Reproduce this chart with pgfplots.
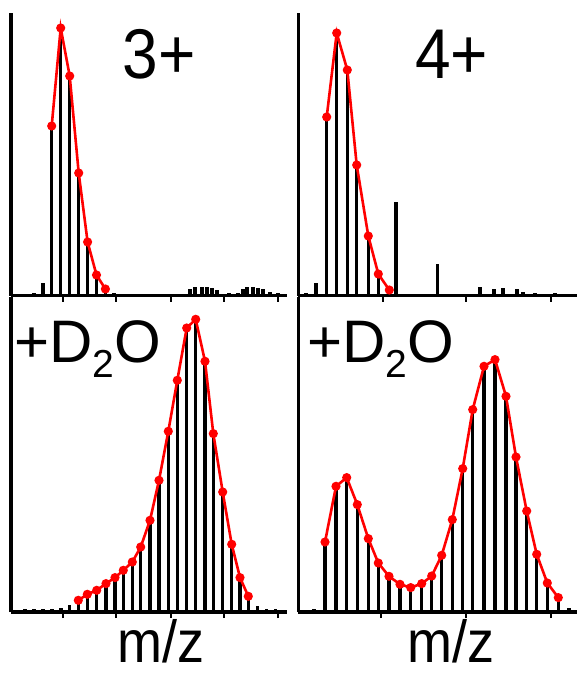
\documentclass[border=0pt]{standalone}
\usepackage{pgfplots}
\pgfplotsset{compat=1.18}
\usepackage{fontspec}
\setmainfont{Liberation Sans}
\begin{document}
\begin{tikzpicture}
\useasboundingbox (0,0) rectangle (577bp,673bp);
\pgfplotsset{
  panel/.style={
    scale only axis, enlargelimits=false, clip=false,
    axis lines=left, axis line style={-, line width=3bp, black},
    ytick=\empty, xticklabels={},
    tick align=outside, major tick length=6bp,
    every tick/.style={black, line width=2.2bp},
    anchor=south west, ymin=0,
  },
  sticks/.style={ycomb, black, line width=3.1bp, mark=none},
  envl/.style={red, line width=2.6bp, mark=*, mark size=3.2bp, mark options={fill=red, draw=red, solid}},
}
% ---------------- top left (3+)
\begin{axis}[panel, at={(11bp,377bp)}, width=276bp, height=283bp,
  xmin=11, xmax=287, ymax=283, xtick={63,116,171,224,278}]
\addplot[sticks] coordinates {(25,2)(34,3)(43,13)(51.7,170)(60.7,268)(69.7,220)(78.7,123)(87.6,54)(96.5,21)(105.4,7)(114,3)(123,2)(132,2)
 (190,7)(195,9)(202,9)(207,9)(212,8)(217,6)(229,3)(238,3)(243,7)(247,9)(253,9)(258,8)(263,7)(270,4)(278,3)};
\addplot[envl] coordinates {(51.7,170)(60.7,268)(69.7,220)(78.7,123)(87.6,54)(96.5,21)(105.4,7)};
\end{axis}
% ---------------- top right (4+)
\begin{axis}[panel, at={(298bp,377bp)}, width=279bp, height=283bp,
  xmin=298, xmax=577, ymax=283, xtick={383,466,551}]
\addplot[sticks] coordinates {(306,3)(316,13)(326.7,179)(336.7,263)(347.3,226)(356.7,131)(368.3,60)(378.3,22)(389.3,6)(396,94)(406,2)(418,2)(437.7,32)(460,2)
 (480,9)(494,7)(503,8)(517,7)(523,4)(535,3)(545,2)(555,3)(565,2)};
\addplot[envl] coordinates {(326.7,179)(336.7,263)(347.3,226)(356.7,131)(368.3,60)(378.3,22)(389.3,6)};
\end{axis}
% ---------------- bottom left (+D2O)
\begin{axis}[panel, at={(11bp,61bp)}, width=276bp, height=315bp,
  xmin=11, xmax=287, ymax=315, xtick={63,116,171,224,278}]
\addplot[sticks] coordinates {(25,3)(34,3)(43,3)(52,3)(61,4)(69.4,7)
 (78.3,11.7)(87.3,17.7)(96.7,21.7)(106,28.4)(115,34.4)(123.3,41.7)(132.3,50)(140.7,65)(150,91.7)(159,131.7)
 (168.3,180.7)(177.3,231.7)(186.7,284)(195.7,292.7)(205,250.7)(213.3,178.4)(222.7,120)(231.7,67.7)(240,34.4)(248.3,15.7)
 (257.3,6)(266.3,3)(275.2,3)};
\addplot[envl] coordinates {(78.3,11.7)(87.3,17.7)(96.7,21.7)(106,28.4)(115,34.4)(123.3,41.7)(132.3,50)(140.7,65)(150,91.7)(159,131.7)
 (168.3,180.7)(177.3,231.7)(186.7,284)(195.7,292.7)(205,250.7)(213.3,178.4)(222.7,120)(231.7,67.7)(240,34.4)(248.3,15.7)};
\end{axis}
% ---------------- bottom right (+D2O)
\begin{axis}[panel, at={(298bp,61bp)}, width=279bp, height=315bp,
  xmin=298, xmax=577, ymax=315, xtick={381,466,551}]
\addplot[sticks] coordinates {(304,2)(314,3)
 (325,70)(336,125.7)(346.7,134.4)(357.3,107.4)(368.3,73.4)(378.3,49)(389,35.7)(400,27.7)(410.7,24.4)(421.7,28.4)(431.7,36)(441.7,56.7)
 (452.3,92.4)(462.7,143.4)(472.7,202.4)(484,245.7)(495,252.4)(506,215.7)(516,155)(526.7,101)(536.7,57.7)(547.3,29)(558.3,14.4)
 (569,4)};
\addplot[envl] coordinates {(325,70)(336,125.7)(346.7,134.4)(357.3,107.4)(368.3,73.4)(378.3,49)(389,35.7)(400,27.7)(410.7,24.4)(421.7,28.4)(431.7,36)(441.7,56.7)
 (452.3,92.4)(462.7,143.4)(472.7,202.4)(484,245.7)(495,252.4)(506,215.7)(516,155)(526.7,101)(536.7,57.7)(547.3,29)(558.3,14.4)};
\end{axis}
% ---------------- labels
\node[anchor=base, inner sep=0pt] at (159bp,594bp) {\scalebox{1}[1.1]{\fontsize{64bp}{64bp}\selectfont 3+}};
\node[anchor=base, inner sep=0pt] at (451.5bp,594bp) {\scalebox{1}[1.1]{\fontsize{64bp}{64bp}\selectfont 4+}};
\node[anchor=base west, inner sep=0pt] at (14bp,310bp) {\fontsize{60bp}{60bp}\selectfont +D\raisebox{-15bp}{\fontsize{39bp}{39bp}\selectfont 2}O};
\node[anchor=base west, inner sep=0pt] at (307bp,310bp) {\fontsize{60bp}{60bp}\selectfont +D\raisebox{-15bp}{\fontsize{39bp}{39bp}\selectfont 2}O};
\node[anchor=base, inner sep=0pt] at (161bp,11bp) {\scalebox{1}[1.1]{\fontsize{54bp}{54bp}\selectfont m/z}};
\node[anchor=base, inner sep=0pt] at (451bp,11bp) {\scalebox{1}[1.1]{\fontsize{54bp}{54bp}\selectfont m/z}};
\end{tikzpicture}
\end{document}
